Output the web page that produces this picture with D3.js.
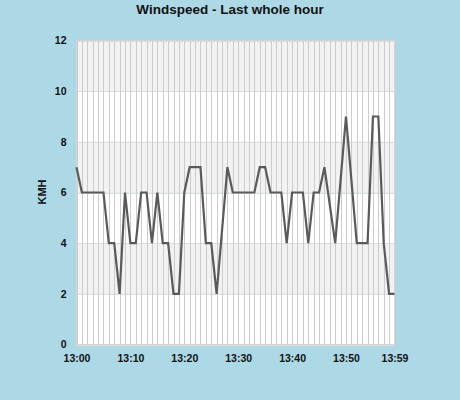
<!DOCTYPE html>
<html>
<head>
<meta charset="utf-8">
<script src="https://cdn.jsdelivr.net/npm/d3@7"></script>
<style>
html,body{margin:0;padding:0;background:#add8e6;}
svg{display:block;}
text{font-family:"Liberation Sans",Arial,sans-serif;font-weight:bold;fill:#111;}
</style>
</head>
<body>
<svg id="chart" width="460" height="400"></svg>
<script>
const title = "Windspeed - Last whole hour";
const yTitle = "KMH";
const minutes = d3.range(0, 60);
const windKmh = [7,6,6,6,6,6,4,4,2,6,
                 4,4,6,6,4,6,4,4,2,2,
                 6,7,7,7,4,4,2,4.5,7,6,
                 6,6,6,6,7,7,6,6,6,4,
                 6,6,6,4,6,6,7,5.5,4,6.5,
                 9,6.5,4,4,4,9,9,4,2,2];
const xTickMinutes = [0,10,20,30,40,50,59];
const xTickLabels = ["13:00","13:10","13:20","13:30","13:40","13:50","13:59"];
const yTicks = [0,2,4,6,8,10,12];
const bands = [[0,2],[2,4],[4,6],[6,8],[8,10],[10,12]];

const svg = d3.select("#chart");
const m = {left:76.5, right:394.5, top:40.5, bottom:344.5};
const x = d3.scaleLinear().domain([0,59]).range([m.left, m.right]);
const y = d3.scaleLinear().domain([0,12]).range([m.bottom, m.top]);

// bands
svg.append("g").selectAll("rect").data(bands).join("rect")
  .attr("x", m.left).attr("width", m.right - m.left)
  .attr("y", d => y(d[1])).attr("height", d => y(d[0]) - y(d[1]))
  .attr("fill", (d,i) => i % 2 === 1 ? "#f2f2f2" : "#ffffff");

// horizontal grid
svg.append("g").selectAll("line").data(yTicks).join("line")
  .attr("x1", m.left).attr("x2", m.right)
  .attr("y1", d => Math.round(y(d)) + 0.5).attr("y2", d => Math.round(y(d)) + 0.5)
  .attr("stroke", "#dddddd").attr("stroke-width", 1);

// vertical grid
svg.append("g").selectAll("line").data(minutes).join("line")
  .attr("x1", d => Math.round(x(d)) + 0.5).attr("x2", d => Math.round(x(d)) + 0.5)
  .attr("y1", m.top).attr("y2", m.bottom)
  .attr("stroke", "#cccccc").attr("stroke-width", 1);

// border
svg.append("rect").attr("x", m.left).attr("y", m.top)
  .attr("width", m.right - m.left).attr("height", m.bottom - m.top)
  .attr("fill", "none").attr("stroke", "#d4d4d4");

// line
const line = d3.line().x((d,i) => x(minutes[i])).y(d => y(d));
svg.append("path").datum(windKmh).attr("d", line)
  .attr("fill", "none").attr("stroke", "#5a5a5a").attr("stroke-width", 2.2)
  .attr("stroke-linejoin", "miter");

// y axis
const yAxis = d3.axisLeft(y).tickValues(yTicks).tickSize(0).tickPadding(10);
const gy = svg.append("g").attr("transform", `translate(${m.left},0)`).call(yAxis);
gy.select(".domain").remove();
gy.selectAll("text").style("font-size", "10.5px").style("font-family", "'Liberation Sans',Arial,sans-serif")
  .style("font-weight", "bold").attr("fill", "#111");

// x axis
const xAxis = d3.axisBottom(x).tickValues(xTickMinutes)
  .tickFormat((d,i) => xTickLabels[i]).tickSize(0).tickPadding(10);
const gx = svg.append("g").attr("transform", `translate(0,${m.bottom})`).call(xAxis);
gx.select(".domain").remove();
gx.selectAll("text").style("font-size", "10.5px").style("font-family", "'Liberation Sans',Arial,sans-serif")
  .style("font-weight", "bold").attr("fill", "#111");

// title
svg.append("text").attr("x", 230).attr("y", 14).attr("text-anchor", "middle")
  .style("font-size", "13.5px").text(title);

// y title
svg.append("text").attr("transform", "translate(46,192) rotate(-90)")
  .attr("text-anchor", "middle").style("font-size", "11px").text(yTitle);
</script>
</body>
</html>
